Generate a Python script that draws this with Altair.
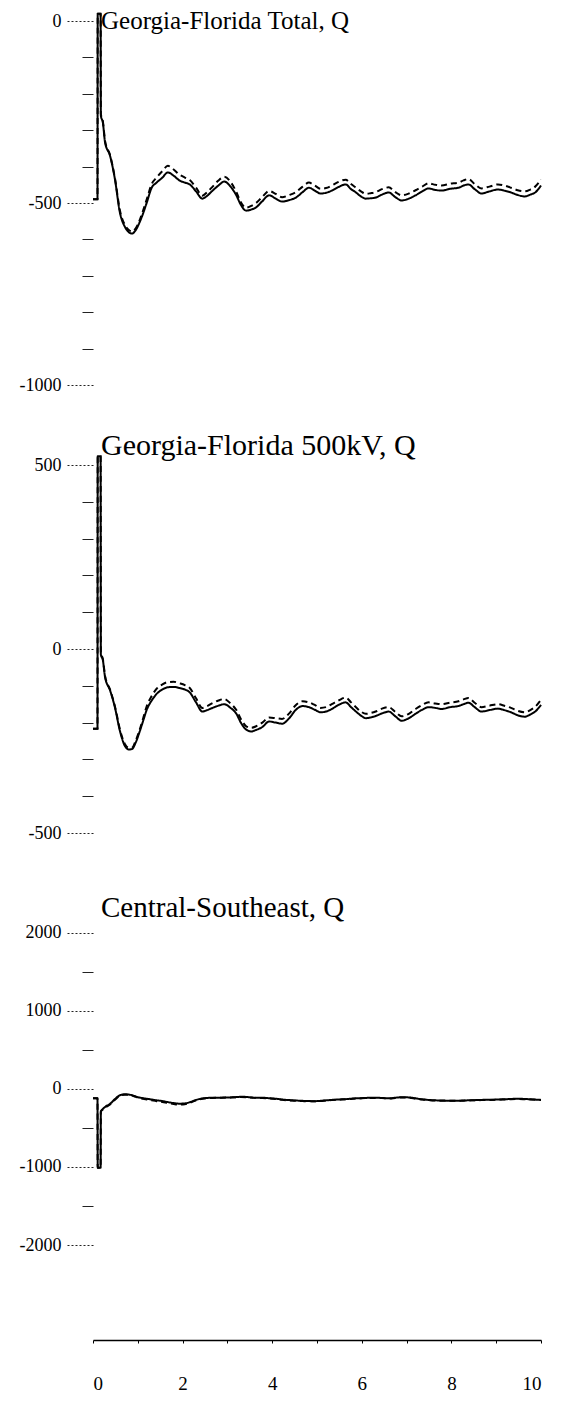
import altair as alt
import pandas as pd

T = [0, 0.10, 0.105, 0.17, 0.175, 0.22, 0.27, 0.38, 0.49, 0.60, 0.71, 0.80, 0.87, 0.95, 1.04, 1.12, 1.20, 1.31, 1.42, 1.55,
     1.67, 1.80, 1.93, 2.05, 2.16, 2.30, 2.44, 2.55, 2.67, 2.80, 2.93, 3.07, 3.20, 3.30, 3.42, 3.53, 3.64, 3.78, 3.93, 4.08,
     4.22, 4.38, 4.53, 4.68, 4.82, 4.95, 5.08, 5.20, 5.33, 5.48, 5.64, 5.76, 5.87, 5.98, 6.09, 6.20, 6.31, 6.45, 6.60, 6.75,
     6.89, 7.05, 7.20, 7.35, 7.49, 7.64, 7.78, 7.97, 8.16, 8.27, 8.38, 8.52, 8.67, 8.85, 9.04, 9.18, 9.33, 9.48, 9.64, 9.76,
     9.87, 10.0]

gf_total_solid = [-490, -490, 20, 20, -260, -279, -334, -370, -435, -526, -565, -580, -584, -575, -553, -528, -499, -458, -444, -430,
                  -416, -425, -438, -444, -449, -468, -488, -480, -466, -452, -441, -455, -479, -505, -521, -518, -512, -495, -479, -488,
                  -496, -492, -485, -470, -458, -466, -474, -472, -466, -456, -449, -462, -471, -482, -488, -487, -485, -477, -471, -484,
                  -493, -488, -479, -468, -460, -464, -466, -461, -458, -452, -449, -462, -474, -468, -463, -466, -471, -478, -482, -477,
                  -471, -452]
gf_total_dashed = [-490, -490, 20, 20, -255, -275, -330, -368, -432, -520, -560, -574, -578, -570, -548, -520, -490, -448, -430, -412,
                   -398, -408, -422, -430, -437, -458, -480, -470, -455, -438, -428, -442, -470, -498, -513, -508, -500, -483, -467, -475,
                   -484, -478, -470, -455, -444, -452, -461, -459, -452, -442, -436, -448, -458, -468, -475, -473, -470, -462, -457, -470,
                   -479, -474, -465, -455, -446, -450, -452, -447, -444, -438, -434, -448, -460, -455, -449, -452, -458, -465, -468, -463,
                   -455, -436]

gf_500_solid = [-217, -217, 524, 524, -15, -30, -77, -112, -159, -222, -263, -273, -272, -255, -225, -195, -165, -140, -122, -110,
                -104, -103, -106, -110, -118, -145, -170, -166, -160, -154, -150, -160, -176, -200, -219, -224, -220, -212, -197, -200,
                -203, -188, -165, -155, -158, -165, -172, -170, -163, -152, -145, -158, -170, -181, -188, -186, -182, -175, -170, -183,
                -195, -188, -176, -165, -158, -160, -163, -158, -155, -150, -146, -158, -170, -166, -162, -166, -172, -180, -184, -178,
                -170, -152]
gf_500_dashed = [-217, -217, 524, 524, -12, -27, -74, -110, -156, -218, -258, -268, -268, -250, -220, -188, -155, -128, -108, -96,
                 -90, -89, -93, -98, -106, -134, -160, -155, -147, -140, -136, -148, -166, -190, -210, -214, -210, -200, -186, -188,
                 -190, -175, -152, -142, -145, -152, -160, -158, -150, -140, -132, -145, -158, -170, -176, -174, -170, -162, -158, -171,
                 -183, -176, -163, -152, -145, -148, -150, -146, -142, -137, -133, -146, -158, -154, -150, -154, -160, -168, -172, -166,
                 -157, -138]

cse_solid = [-120, -120, -1010, -1010, -290, -256, -230, -190, -130, -80, -68, -72, -80, -95, -110, -118, -125, -135, -145, -155,
             -168, -180, -188, -185, -170, -140, -122, -115, -112, -112, -110, -108, -104, -100, -102, -108, -112, -112, -118, -125,
             -135, -142, -148, -152, -155, -156, -152, -146, -140, -135, -130, -125, -120, -118, -115, -112, -112, -115, -120, -112,
             -105, -108, -120, -132, -140, -145, -148, -150, -150, -148, -145, -143, -140, -138, -135, -132, -128, -125, -128, -132,
             -136, -140]
cse_dashed = [-120, -120, -1010, -1010, -290, -262, -238, -198, -138, -88, -74, -76, -84, -100, -116, -126, -134, -145, -156, -167,
              -180, -192, -200, -196, -178, -146, -126, -118, -114, -113, -111, -109, -106, -103, -105, -110, -114, -115, -121, -129,
              -139, -146, -151, -155, -158, -158, -154, -148, -142, -137, -132, -127, -122, -120, -117, -114, -114, -117, -122, -115,
              -108, -111, -123, -135, -143, -148, -151, -152, -152, -150, -147, -145, -142, -140, -137, -134, -130, -128, -131, -134,
              -138, -142]

titles = ["Georgia-Florida Total, Q", "Georgia-Florida 500kV, Q", "Central-Southeast, Q"]
title_sizes = [25, 30, 29]
title_dy = [28, 13, 14]
tick_ranges = [[-1000, 0], [-500, 500], [-2000, 2000]]
domains = [[-1000, 0], [-500, 500], [-2000, 2256]]
minor_steps = [100, 100, 500]
major_steps = [500, 500, 1000]
heights = [364, 368, 332]
FONT = "Liberation Serif"


def make_df(solid, dashed):
    return pd.DataFrame({
        "t": T + T,
        "v": solid + dashed,
        "series": ["solid"] * len(T) + ["dashed"] * len(T),
    })


frames = [make_df(gf_total_solid, gf_total_dashed),
          make_df(gf_500_solid, gf_500_dashed),
          make_df(cse_solid, cse_dashed)]

panels = []
for i, df in enumerate(frames):
    lo, hi = tick_ranges[i]
    minor = list(range(lo, hi + 1, minor_steps[i]))
    major = major_steps[i]
    last = i == len(frames) - 1
    if last:
        xaxis = alt.Axis(values=list(range(0, 11)), labelExpr="datum.value % 2 == 0 ? '' + datum.value : ''",
                         orient="bottom", offset=95, tickSize=3, labelPadding=31, domainColor="black",
                         domainWidth=1.5, tickColor="black", labelFont=FONT, labelFontSize=19, labelColor="black",
                         grid=False, title=None)
    else:
        xaxis = None
    yaxis = alt.Axis(values=minor,
                     labelExpr=f"datum.value % {major} == 0 ? '' + datum.value : ''",
                     domain=False, grid=False, title=None,
                     tickSize={"condition": {"test": f"datum.value % {major} == 0", "value": 28}, "value": 11},
                     tickDash={"condition": {"test": f"datum.value % {major} == 0", "value": [2, 2]}, "value": [1, 0]},
                     tickColor="#222", tickWidth=1.2,
                     labelPadding=4, labelFont=FONT, labelFontSize=18, labelColor="black")
    ch = alt.Chart(df).mark_line(color="black", strokeWidth=2, interpolate="monotone").encode(
        x=alt.X("t:Q", scale=alt.Scale(domain=[0, 10], nice=False), axis=xaxis),
        y=alt.Y("v:Q", scale=alt.Scale(domain=domains[i], nice=False, zero=False), axis=yaxis),
        strokeDash=alt.StrokeDash("series:N", scale=alt.Scale(domain=["solid", "dashed"], range=[[1, 0], [6, 4]]),
                                  legend=None),
        detail="series:N",
    ).properties(
        width=448, height=heights[i],
        title=alt.TitleParams(titles[i], anchor="start", frame="group", font=FONT, fontSize=title_sizes[i],
                              fontWeight="normal", color="black", dx=8, dy=title_dy[i], offset=4),
    )
    panels.append(ch)

chart = alt.vconcat(*panels, spacing=80, bounds="flush").properties(
    padding={"left": 11, "top": 0, "right": 5, "bottom": 5}
).configure_view(stroke=None)

chart.save("out.html", embed_options={"renderer": "svg", "actions": False})
